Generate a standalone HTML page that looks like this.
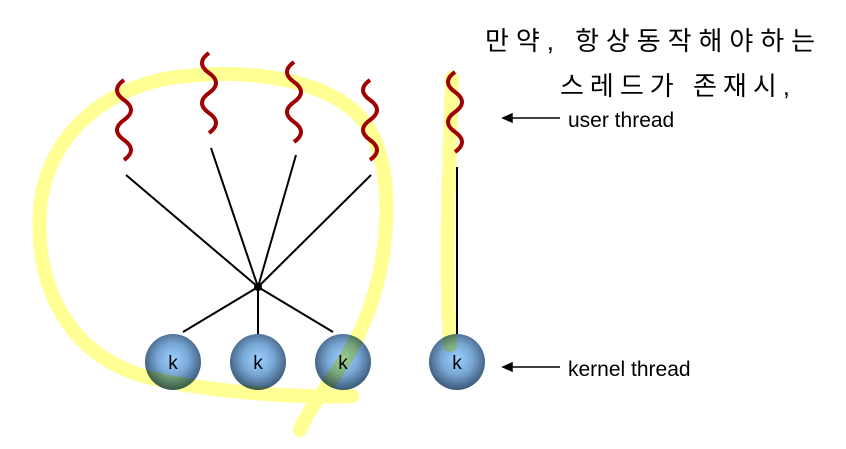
<!DOCTYPE html>
<html><head><meta charset="utf-8"><style>
html,body{margin:0;padding:0;background:#fff;width:846px;height:449px;overflow:hidden}
svg{display:block}
</style></head><body>
<svg width="846" height="449" viewBox="0 0 846 449">
<defs>
<radialGradient id="kg" cx="50%" cy="45%" r="55%">
<stop offset="0" stop-color="#9cd0ff"/><stop offset="0.5" stop-color="#7aa8d6"/><stop offset="1" stop-color="#3a5878"/>
</radialGradient>
</defs>
<g stroke="#000" stroke-width="2">
<line x1="126" y1="175" x2="258" y2="287"/>
<line x1="211" y1="148" x2="258" y2="287"/>
<line x1="296" y1="155" x2="258" y2="287"/>
<line x1="371" y1="175" x2="258" y2="287"/>
<line x1="258" y1="287" x2="183" y2="332"/>
<line x1="258" y1="287" x2="258" y2="334"/>
<line x1="258" y1="287" x2="333" y2="332"/>
<line x1="457" y1="167" x2="457" y2="340"/>
</g>
<circle cx="258" cy="287" r="4" fill="#000"/>
<g fill="none" stroke="#a00000" stroke-width="4">
<path d="M124,80 q-14,10 0,20 q14,10 0,20 q-14,10 0,20 q14,10 0,20"/>
<path d="M209,53 q-14,10 0,20 q14,10 0,20 q-14,10 0,20 q14,10 0,20"/>
<path d="M294,62 q-14,10 0,20 q14,10 0,20 q-14,10 0,20 q14,10 0,20"/>
<path d="M370,80 q-14,10 0,20 q14,10 0,20 q-14,10 0,20 q14,10 0,20"/>
<path d="M455,72 q-14,10 0,20 q14,10 0,20 q-14,10 0,20 q14,10 0,20"/>
</g>
<g>
<circle cx="173" cy="362" r="28" fill="url(#kg)"/>
<circle cx="258" cy="362" r="28" fill="url(#kg)"/>
<circle cx="343" cy="362" r="28" fill="url(#kg)"/>
<circle cx="457" cy="362" r="28" fill="url(#kg)"/>
<g font-family="Liberation Sans, sans-serif" font-size="19" fill="#000" text-anchor="middle">
<text x="173" y="369">k</text><text x="258" y="369">k</text><text x="343" y="369">k</text><text x="457" y="369">k</text>
</g>
</g>
<g fill="none" stroke="#ffff66" stroke-width="14" stroke-linecap="round" opacity="0.7" style="mix-blend-mode:multiply">
<path d="M352,396 C300,398 200,392 140,375 C70,352 35,290 40,210 C45,140 100,90 170,78 C250,66 340,80 370,130 C395,175 390,260 365,320 C345,370 315,395 300,430"/>
<path d="M452,78 C450,150 445,250 450,345"/>
</g>
<g stroke="#000" stroke-width="1.5">
<line x1="560" y1="118" x2="510" y2="118"/>
<polygon points="503,118 512,114 512,122" fill="#000"/>
<line x1="560" y1="367" x2="510" y2="367"/>
<polygon points="503,367 512,363 512,371" fill="#000"/>
</g>
<g font-family="Liberation Sans, sans-serif" font-size="21" fill="#000">
<text x="568" y="127">user thread</text>
<text x="568" y="376">kernel thread</text>
</g>
<g font-family="Liberation Sans, 'Noto Sans CJK KR', sans-serif" font-size="26" fill="#000">
<text x="485" y="50" textLength="330">만약, 항상동작해야하는</text>
<text x="560" y="95" textLength="230">스레드가 존재시,</text>
</g>
</svg>
</body></html>
